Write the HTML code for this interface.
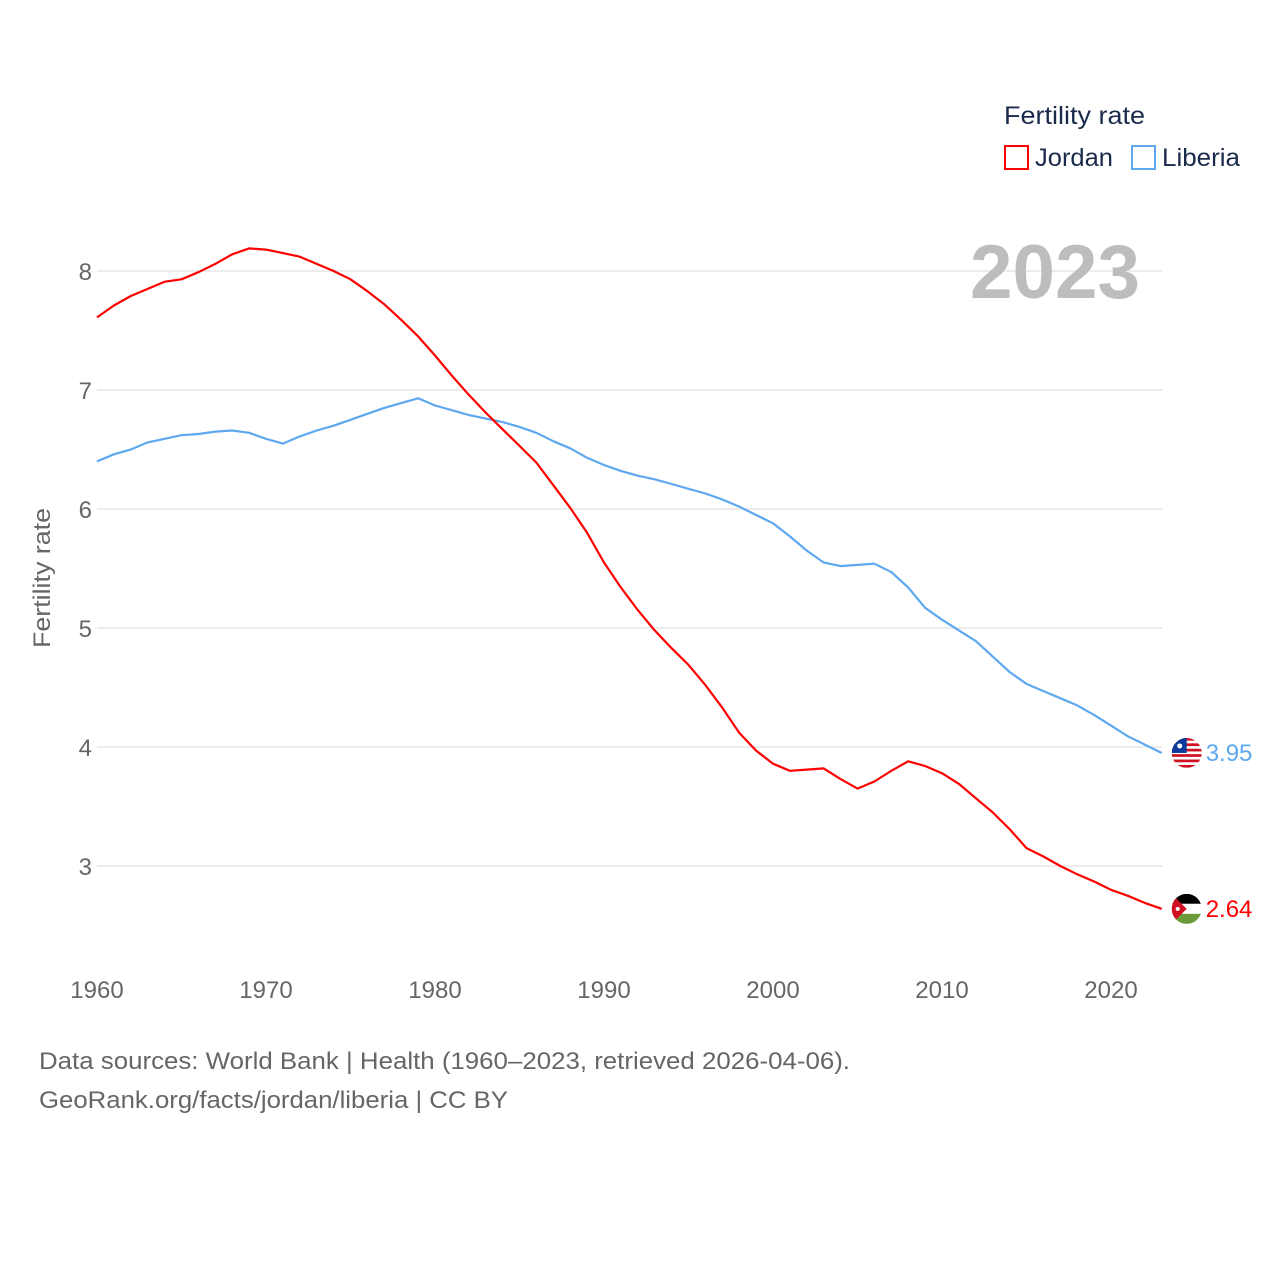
<!DOCTYPE html>
<html><head><meta charset="utf-8"><style>
body{margin:0;background:#fff;}
svg{display:block;font-family:"Liberation Sans",sans-serif;}
</style></head><body>
<svg id="chart" width="1280" height="1280" viewBox="0 0 1280 1280">
<defs>
<clipPath id="clipL"><circle id="cL" cx="0" cy="0" r="15"/></clipPath>
<clipPath id="clipJ"><circle id="cJ" cx="0" cy="0" r="15"/></clipPath>
</defs>
<g id="grid"></g>
<g id="yt"></g>
<g id="xt"></g>
<text x="970" y="298" font-size="76" font-weight="bold" fill="#bdbdbd" textLength="170" lengthAdjust="spacingAndGlyphs">2023</text>
<text transform="translate(50,578) rotate(-90)" text-anchor="middle" font-size="24" fill="#666" textLength="140" lengthAdjust="spacingAndGlyphs">Fertility rate</text>
<g>
<text x="1004" y="124" font-size="25" fill="#1a2a4a" textLength="141" lengthAdjust="spacingAndGlyphs">Fertility rate</text>
<g><rect x="1005" y="146" width="23" height="23" fill="none" stroke="#f00" stroke-width="2"/><text x="1035" y="166" font-size="25" fill="#1a2a4a" textLength="78" lengthAdjust="spacingAndGlyphs">Jordan</text></g>
<g><rect x="1132" y="146" width="23" height="23" fill="none" stroke="#5ea8f0" stroke-width="2"/><text x="1162" y="166" font-size="25" fill="#1a2a4a" textLength="78" lengthAdjust="spacingAndGlyphs">Liberia</text></g>
</g>
<g id="series"></g>
<text x="39" y="1069" font-size="24" fill="#666" textLength="811" lengthAdjust="spacingAndGlyphs">Data sources: World Bank | Health (1960–2023, retrieved 2026-04-06).</text>
<text x="39" y="1108" font-size="24" fill="#666" textLength="469" lengthAdjust="spacingAndGlyphs">GeoRank.org/facts/jordan/liberia | CC BY</text>
</svg>
<script>
const years=[];for(let y=1960;y<=2023;y++)years.push(y);
const jordan=[7.61,7.71,7.79,7.85,7.91,7.93,7.99,8.06,8.14,8.19,8.18,8.15,8.12,8.06,8.00,7.93,7.83,7.72,7.59,7.45,7.29,7.12,6.96,6.81,6.67,6.53,6.39,6.20,6.01,5.80,5.55,5.34,5.15,4.98,4.83,4.69,4.52,4.33,4.12,3.97,3.86,3.80,3.81,3.82,3.73,3.65,3.71,3.80,3.88,3.84,3.78,3.69,3.57,3.45,3.31,3.15,3.08,3.00,2.93,2.87,2.80,2.75,2.69,2.64];
const liberia=[6.40,6.46,6.50,6.56,6.59,6.62,6.63,6.65,6.66,6.64,6.59,6.55,6.61,6.66,6.70,6.75,6.80,6.85,6.89,6.93,6.87,6.83,6.79,6.76,6.73,6.69,6.64,6.57,6.51,6.43,6.37,6.32,6.28,6.25,6.21,6.17,6.13,6.08,6.02,5.95,5.88,5.77,5.65,5.55,5.52,5.53,5.54,5.47,5.34,5.17,5.07,4.98,4.89,4.76,4.63,4.53,4.47,4.41,4.35,4.27,4.18,4.09,4.02,3.95];
const yTicks=[3,4,5,6,7,8];
const xTicks=[1960,1970,1980,1990,2000,2010,2020];
const NS='http://www.w3.org/2000/svg';
const X=y=>97+(y-1960)*(1014/60);
const Y=v=>271+(8-v)*119;
function mk(t,a,p){const e=document.createElementNS(NS,t);for(const k in a)e.setAttribute(k,a[k]);p.appendChild(e);return e;}
const grid=document.getElementById('grid'),yt=document.getElementById('yt'),xt=document.getElementById('xt'),ser=document.getElementById('series');
yTicks.forEach(v=>{
 const l=mk('line',{x1:97,x2:1162,y1:Y(v),y2:Y(v),stroke:'#e6e6e6','stroke-width':1.5},grid);
 
 
 const t=mk('text',{x:92,y:Y(v)+9,'text-anchor':'end','font-size':24,fill:'#666'},yt);t.textContent=v;
 
 
});
xTicks.forEach(v=>{
 const t=mk('text',{x:X(v),y:998,'text-anchor':'middle','font-size':24,fill:'#666'},xt);t.textContent=v;
 
 
});
function line(vals,col,name){
 const d=vals.map((v,i)=>(i?'L':'M')+X(years[i]).toFixed(1)+','+Y(v).toFixed(1)).join('');
 const p=mk('path',{d:d,fill:'none',stroke:col,'stroke-width':2.2,'stroke-linejoin':'round'},ser);
 
 
}
line(liberia,'#5ea8f0','liberia-line');
line(jordan,'#f00','jordan-line');
const lx=X(2023),ln=years.length-1,fx=lx+25;
// Liberia flag marker
const cy1=Y(liberia[ln]);
const cL=document.getElementById('cL');cL.setAttribute('cx',fx);cL.setAttribute('cy',cy1);
const fl=mk('g',{'clip-path':'url(#clipL)'},ser);


mk('rect',{x:fx-15,y:cy1-15,width:30,height:30,fill:'#fff'},fl);
for(let i=0;i<6;i++)mk('rect',{x:fx-15,y:cy1-15+i*5.4,width:30,height:2.7,fill:'#d01020'},fl);
mk('rect',{x:fx-15,y:cy1-15,width:15,height:15,fill:'#0a3a9a'},fl);
mk('circle',{cx:fx-7,cy:cy1-7,r:2.5,fill:'#fff'},fl);
const t1=mk('text',{x:lx+44,y:cy1+8,'font-size':24,fill:'#5ea8f0'},ser);t1.textContent=liberia[ln].toFixed(2);


// Jordan flag marker
const cy2=Y(jordan[ln]);
const cJ=document.getElementById('cJ');cJ.setAttribute('cx',fx);cJ.setAttribute('cy',cy2);
const fj=mk('g',{'clip-path':'url(#clipJ)'},ser);


mk('rect',{x:fx-15,y:cy2-15,width:30,height:10,fill:'#000'},fj);
mk('rect',{x:fx-15,y:cy2-5,width:30,height:10,fill:'#fff'},fj);
mk('rect',{x:fx-15,y:cy2+5,width:30,height:10,fill:'#6a9a3a'},fj);
mk('path',{d:`M${fx-15},${cy2-15} L${fx},${cy2} L${fx-15},${cy2+15}Z`,fill:'#d01020'},fj);
mk('circle',{cx:fx-9,cy:cy2,r:2,fill:'#fff'},fj);
const t2=mk('text',{x:lx+44,y:cy2+8,'font-size':24,fill:'#f00'},ser);t2.textContent=jordan[ln].toFixed(2);


</script>
</body></html>
